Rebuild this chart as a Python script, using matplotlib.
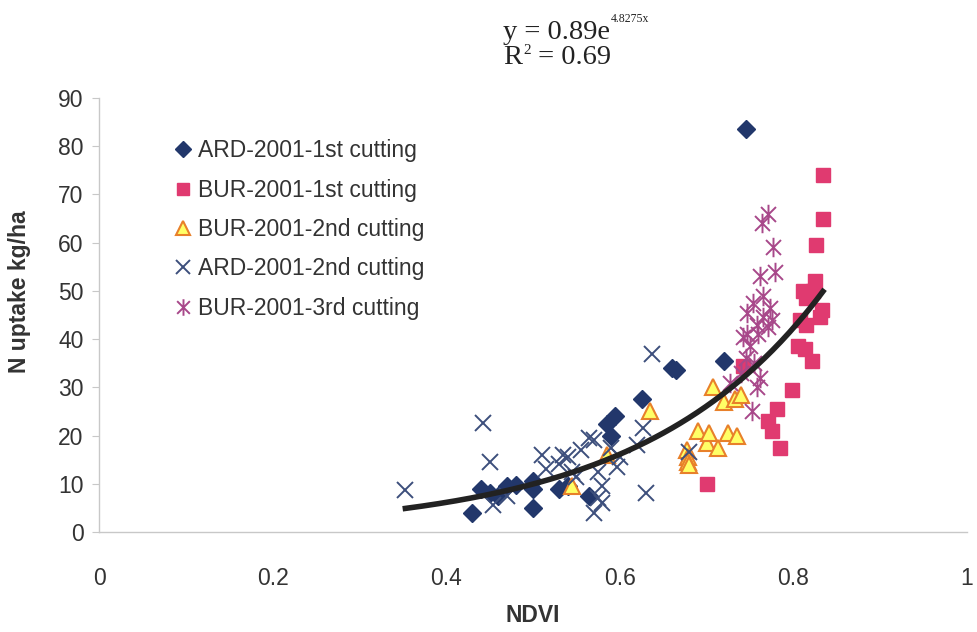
import matplotlib
matplotlib.use("Agg")
import matplotlib.pyplot as plt
from matplotlib.path import Path
import numpy as np

plt.rcParams['font.family'] = ['Liberation Sans', 'DejaVu Sans']

# ARD-2001-1st cutting
ard1_x = [0.43, 0.44, 0.45, 0.46, 0.47, 0.48, 0.50, 0.50, 0.50, 0.53, 0.54,
          0.565, 0.585, 0.59, 0.595, 0.625, 0.66, 0.665, 0.72, 0.745]
ard1_y = [4, 9, 8, 7.5, 9.5, 9.8, 10.5, 5, 9, 9, 9.5,
          7.5, 22.5, 20, 24, 27.5, 34, 33.5, 35.5, 83.5]

# BUR-2001-1st cutting
bur1_x = [0.834, 0.834, 0.826, 0.825, 0.811, 0.823, 0.815, 0.833, 0.831, 0.808,
          0.815, 0.805, 0.813, 0.821, 0.798, 0.781, 0.771, 0.775, 0.784, 0.70, 0.742]
bur1_y = [74, 65, 59.5, 52, 50, 50, 48.5, 46, 44.5, 44,
          43, 38.5, 38, 35.5, 29.5, 25.5, 23, 21, 17.5, 10, 34.5]

# BUR-2001-2nd cutting
bur2_x = [0.545, 0.585, 0.635, 0.677, 0.679, 0.679, 0.68, 0.69, 0.70, 0.703,
          0.707, 0.713, 0.72, 0.725, 0.733, 0.735, 0.74]
bur2_y = [9.5, 16, 25, 17, 15.5, 14.5, 13.8, 21, 18.5, 20.5,
          30, 17.5, 27, 20.5, 27.5, 20, 28.5]

# ARD-2001-2nd cutting
ard2_x = [0.353, 0.442, 0.45, 0.454, 0.47, 0.51, 0.515, 0.53, 0.535, 0.54,
          0.545, 0.55, 0.555, 0.565, 0.57, 0.575, 0.58, 0.575, 0.57, 0.58,
          0.59, 0.597, 0.60, 0.62, 0.627, 0.63, 0.637, 0.68]
ard2_y = [8.7, 22.6, 14.5, 5.5, 7.5, 16, 13, 14, 16, 15.5,
          12.5, 11.5, 17, 19.5, 19, 12.5, 9.5, 7, 4, 6,
          17.5, 13.5, 15.5, 18, 21.5, 8, 37, 16.5]

# BUR-2001-3rd cutting
bur3_x = [0.771, 0.764, 0.777, 0.779, 0.762, 0.765, 0.773, 0.754, 0.746, 0.765,
          0.775, 0.758, 0.771, 0.746, 0.759, 0.742, 0.75, 0.755, 0.762, 0.758,
          0.74, 0.727, 0.752, 0.745]
bur3_y = [66, 64, 59, 54, 53, 49, 46.5, 47.5, 45.5, 44.5,
          44, 43, 42.5, 41, 41, 40.5, 38.5, 35, 32, 30,
          33, 31, 25, 36]

# exponential trendline y = a*exp(b*x)
fit_a = 0.89
fit_b = 4.8275
fit_xmin, fit_xmax = 0.353, 0.834

# six-arm star like the Excel marker
star = Path([(-1, -1), (1, 1), (-1, 1), (1, -1), (0, -1.3), (0, 1.3)],
            [Path.MOVETO, Path.LINETO, Path.MOVETO, Path.LINETO, Path.MOVETO, Path.LINETO])

W, H = 977, 632
fig = plt.figure(figsize=(W / 100, H / 100), dpi=100)
ax = fig.add_axes([99 / W, 1 - 532 / H, 868 / W, 434 / H])

ax.plot(ard1_x, ard1_y, 'D', ms=9, color='#22376B', mec='#22376B', label='ARD-2001-1st cutting')
ax.plot(bur1_x, bur1_y, 's', ms=10, color='#E03A70', mec='#E03A70', label='BUR-2001-1st cutting')
ax.plot(bur2_x, bur2_y, '^', ms=12, color='#FFFF66', mec='#E8802A', mew=1.5,
        label='BUR-2001-2nd cutting')
ax.plot(ard2_x, ard2_y, 'x', ms=12, color='#3D4F7C', mew=1.4, label='ARD-2001-2nd cutting')
ax.plot(bur3_x, bur3_y, ls='none', marker=star, ms=14, color='#A8488A', mew=1.4,
        label='BUR-2001-3rd cutting')

xf = np.linspace(fit_xmin, fit_xmax, 200)
ax.plot(xf, fit_a * np.exp(fit_b * xf), color='#222222', lw=4, zorder=5)

ax.set_xlim(0, 1)
ax.set_ylim(0, 90)
ax.set_xticks([0, 0.2, 0.4, 0.6, 0.8, 1])
ax.set_xticklabels(['0', '0.2', '0.4', '0.6', '0.8', '1'])
ax.set_yticks(range(0, 91, 10))

for s in ['top', 'right']:
    ax.spines[s].set_visible(False)
for s in ['left', 'bottom']:
    ax.spines[s].set_color('#C8C8C8')
    ax.spines[s].set_linewidth(1)
ax.tick_params(colors='#C8C8C8', labelcolor='#333333', labelsize=16.5, length=5,
               direction='out', pad=6)
ax.tick_params(axis='x', length=0, pad=25)

ax.set_xlabel('NDVI', fontsize=16.5, fontweight='bold', color='#333333', labelpad=10)
ax.set_ylabel('N uptake kg/ha', fontsize=16.5, fontweight='bold', color='#333333')
ax.yaxis.set_label_coords(-0.078, 0.553)

leg = ax.legend(loc='upper left', bbox_to_anchor=(0.063, 0.952), frameon=False,
                fontsize=16.5, handlelength=0.75, handletextpad=0.3, labelspacing=0.71,
                markerscale=0.85)
for t in leg.get_texts():
    t.set_color('#333333')

# trendline equation, superscripts placed after the measured main text
serif = 'Liberation Serif'
ink = '#222222'
renderer = fig.canvas.get_renderer()


def after(txt, dx, dy):
    bb = txt.get_window_extent(renderer)
    return (bb.x1 + dx) / W, txt.get_position()[1] + dy / H


t1 = fig.text(503 / W, 1 - 39 / H, 'y = 0.89e', fontsize=20.5, family=serif,
              va='baseline', color=ink)
x, y = after(t1, 1, 17)
fig.text(x, y, '4.8275x', fontsize=8.5, family=serif, va='baseline', color=ink)

t2 = fig.text(503 / W, 1 - 64 / H, 'R', fontsize=20.5, family=serif, va='baseline', color=ink)
x, y = after(t2, 1, 10)
t3 = fig.text(x, y, '2', fontsize=11, family=serif, va='baseline', color=ink)
x, _ = after(t3, 0, 0)
fig.text(x, 1 - 64 / H, ' = 0.69', fontsize=20.5, family=serif, va='baseline', color=ink)

fig.savefig('out.png', dpi=100)
